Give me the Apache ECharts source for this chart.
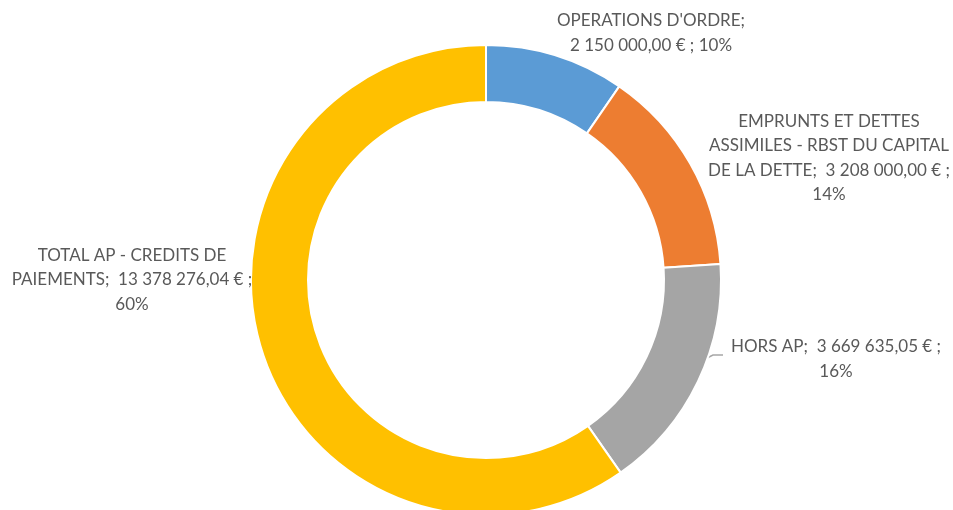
<!DOCTYPE html>
<html>
<head>
<meta charset="utf-8">
<script src="https://cdn.jsdelivr.net/npm/echarts@6/dist/echarts.min.js"></script>
<style>
  html, body { margin: 0; padding: 0; background: #fff; }
  #main { width: 953px; height: 510px; }
</style>
</head>
<body>
<div id="main"></div>
<script>
var categories = [
    'OPERATIONS D\'ORDRE',
    'EMPRUNTS ET DETTES ASSIMILES - RBST DU CAPITAL DE LA DETTE',
    'HORS AP',
    'TOTAL AP - CREDITS DE PAIEMENTS'
];
var values = [2150000.00, 3208000.00, 3669635.05, 13378276.04];
var colors = ['#5B9BD5', '#ED7D31', '#A5A5A5', '#FFC000'];

// where each label sits (centre of text block)
var labelPos = [[651, 33], [829, 158], [836, 359], [132, 280]];

function euro(v) {
    var parts = v.toFixed(2).split('.');
    var int = parts[0].replace(/\B(?=(\d{3})+(?!\d))/g, ' ');
    return int + ',' + parts[1] + ' €';
}

function labelText(p) {
    var v = euro(p.value);
    var pct = Math.round(p.percent) + '%';
    switch (p.dataIndex) {
        case 0: return p.name + ';\n' + v + ' ; ' + pct;
        case 1: return 'EMPRUNTS ET DETTES\nASSIMILES - RBST DU CAPITAL\nDE LA DETTE;  ' + v + ' ;\n' + pct;
        case 2: return p.name + ';  ' + v + ' ;\n' + pct;
        default: return 'TOTAL AP - CREDITS DE\nPAIEMENTS;  ' + v + ' ;\n' + pct;
    }
}

var data = categories.map(function (c, i) {
    return {
        name: c,
        value: values[i],
        itemStyle: { color: colors[i] },
        labelLine: { show: i === 2 }
    };
});

var option = {
    animation: false,
    series: [{
        type: 'pie',
        center: [486, 280],
        radius: [178, 235],
        startAngle: 90,
        clockwise: true,
        itemStyle: { borderColor: '#fff', borderWidth: 2 },
        label: {
            show: true,
            position: 'outside',
            alignTo: 'none',
            overflow: 'none',
            formatter: labelText,
            color: '#595959',
            fontFamily: 'Lato',
            fontSize: 17,
            lineHeight: 24.5,
            align: 'center'
        },
        labelLine: {
            smooth: false,
            lineStyle: { color: '#A6A6A6', width: 1.5 }
        },
        labelLayout: function (params) {
            var pos = labelPos[params.dataIndex];
            var res = {
                x: pos[0],
                y: pos[1],
                align: 'center',
                verticalAlign: 'middle'
            };
            if (params.dataIndex === 2) {
                res.labelLinePoints = [[707, 358], [713, 355], [723, 355]];
            }
            return res;
        },
        data: data
    }]
};

var myChart = echarts.init(document.getElementById('main'));
myChart.setOption(option);
</script>
</body>
</html>
